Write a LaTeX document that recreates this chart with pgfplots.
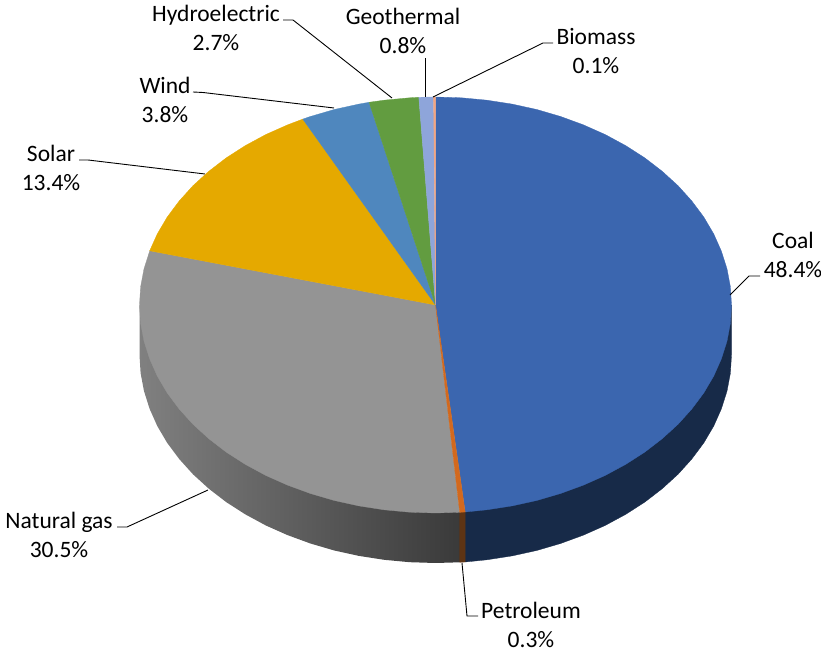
\documentclass[border=0pt]{standalone}
\usepackage{fontspec}
\setmainfont{Carlito}
\usepackage{pgfplots}
\pgfplotsset{compat=1.18}
\definecolor{coal}{HTML}{3B66AF}
\definecolor{coalrim}{HTML}{172A48}
\definecolor{petro}{HTML}{D2691E}
\definecolor{petrorim}{HTML}{5E3414}
\definecolor{gas}{HTML}{949494}
\definecolor{gasL}{HTML}{808080}
\definecolor{gasR}{HTML}{3A3A3A}
\definecolor{solar}{HTML}{E5A900}
\definecolor{wind}{HTML}{4F87BE}
\definecolor{hydro}{HTML}{629C40}
\definecolor{geo}{HTML}{8EA5DA}
\definecolor{biomass}{HTML}{F4A580}
\tikzset{lab/.style={font=\fontsize{23.5}{29}\selectfont, align=center, text=black, inner sep=0pt}}
\begin{document}
\begin{tikzpicture}
\begin{axis}[
  scale only axis, width=821pt, height=650pt,
  xmin=-435.5, xmax=385.5, ymin=-345, ymax=305,
  hide axis, clip=false,
  every axis plot/.append style={line width=0.3pt}
]
\path[use as bounding box] (axis cs:-435.5,-345) rectangle (axis cs:385.5,305);
% --- rim (side wall) ---
\addplot[fill=coalrim, draw=coalrim] coordinates {(296,0)(296,-50)(294.9,-68.1)(291.5,-86.1)(285.9,-103.8)(278.2,-121.1)(268.3,-137.9)(256.3,-154)(242.5,-169.3)(226.7,-183.7)(209.3,-197.1)(190.3,-209.3)(169.8,-220.4)(148,-230.1)(125.1,-238.5)(101.2,-245.5)(76.6,-250.9)(51.4,-254.8)(29.7,-257)(29.7,-207)} -- cycle;
\addplot[left color=gasL, right color=gasR, draw=none] coordinates {(24.2,-207.3)(24.2,-257.3)(0,-258)(-25.8,-257.2)(-51.4,-254.8)(-76.6,-250.9)(-101.2,-245.5)(-125.1,-238.5)(-148,-230.1)(-169.8,-220.4)(-190.3,-209.3)(-209.3,-197.1)(-226.7,-183.7)(-242.5,-169.3)(-256.3,-154)(-268.3,-137.9)(-278.2,-121.1)(-285.9,-103.8)(-291.5,-86.1)(-294.9,-68.1)(-296,-50)(-296,0)} -- cycle;
\addplot[fill=petrorim, draw=petrorim] coordinates {(29.7,-207)(29.7,-257)(24.2,-257.3)(24.2,-207.3)} -- cycle;
% --- top surface ---
\addplot[fill=coal, draw=coal] coordinates {(0,0)(0,208)(25.8,207.2)(51.4,204.8)(76.6,200.9)(101.2,195.5)(125.1,188.5)(148,180.1)(169.8,170.4)(190.3,159.3)(209.3,147.1)(226.7,133.7)(242.5,119.3)(256.3,104)(268.3,87.9)(278.2,71.1)(285.9,53.8)(291.5,36.1)(294.9,18.1)(296,0)(294.9,-18.1)(291.5,-36.1)(285.9,-53.8)(278.2,-71.1)(268.3,-87.9)(256.3,-104)(242.5,-119.3)(226.7,-133.7)(209.3,-147.1)(190.3,-159.3)(169.8,-170.4)(148,-180.1)(125.1,-188.5)(101.2,-195.5)(76.6,-200.9)(51.4,-204.8)(29.7,-207)} -- cycle;
\addplot[fill=gas, draw=gas] coordinates {(0,0)(24.2,-207.3)(0,-208)(-25.8,-207.2)(-51.4,-204.8)(-76.6,-200.9)(-101.2,-195.5)(-125.1,-188.5)(-148,-180.1)(-169.8,-170.4)(-190.3,-159.3)(-209.3,-147.1)(-226.7,-133.7)(-242.5,-119.3)(-256.3,-104)(-268.3,-87.9)(-278.2,-71.1)(-285.9,-53.8)(-291.5,-36.1)(-294.9,-18.1)(-296,0)(-294.9,18.1)(-291.5,36.1)(-285.9,53.8)(-285.8,54.2)} -- cycle;
\addplot[fill=petro, draw=petro] coordinates {(0,0)(29.7,-207)(24.2,-207.3)} -- cycle;
\addplot[fill=solar, draw=solar] coordinates {(0,0)(-285.8,54.2)(-278.2,71.1)(-268.3,87.9)(-256.3,104)(-242.5,119.3)(-226.7,133.7)(-209.3,147.1)(-190.3,159.3)(-169.8,170.4)(-148,180.1)(-132.7,185.9)} -- cycle;
\addplot[fill=wind, draw=wind] coordinates {(0,0)(-132.7,185.9)(-125.1,188.5)(-101.2,195.5)(-76.6,200.9)(-66.4,202.7)} -- cycle;
\addplot[fill=hydro, draw=hydro] coordinates {(0,0)(-66.4,202.7)(-51.4,204.8)(-25.8,207.2)(-16.7,207.7)} -- cycle;
\addplot[fill=geo, draw=geo] coordinates {(0,0)(-16.7,207.7)(-1.9,208)} -- cycle;
\addplot[fill=biomass, draw=biomass] coordinates {(0,0)(-1.9,208)(0,208)} -- cycle;
% --- leader lines ---
\addplot[black, line width=0.9pt] coordinates {(294.5,10)(313.5,29)(324.5,29)};
\addplot[black, line width=0.9pt] coordinates {(26.5,-258)(31.5,-311)(42.5,-311)};
\addplot[black, line width=0.9pt] coordinates {(-227.5,-185)(-308.5,-222)(-318.5,-222)};
\addplot[black, line width=0.9pt] coordinates {(-2.5,208)(107.5,262)(117.5,262)};
\addplot[black, line width=0.9pt] coordinates {(-10.5,208)(-10.5,247)};
\addplot[black, line width=0.9pt] coordinates {(-43.5,207)(-142.5,285)(-152.5,285)};
\addplot[black, line width=0.9pt] coordinates {(-101.5,197)(-232.5,212.5)(-242.5,213)};
\addplot[black, line width=0.9pt] coordinates {(-230.5,131)(-347.5,145)(-356.5,145)};
% --- labels ---
\node[lab] at (axis cs:357.5,50.5) {Coal\\48.4\%};
\node[lab] at (axis cs:160.5,254) {Biomass\\0.1\%};
\node[lab] at (axis cs:-32.5,274.5) {Geothermal\\0.8\%};
\node[lab] at (axis cs:-219.5,277.5) {Hydroelectric\\2.7\%};
\node[lab] at (axis cs:-270.5,205.5) {Wind\\3.8\%};
\node[lab] at (axis cs:-384.5,137.5) {Solar\\13.4\%};
\node[lab] at (axis cs:-376.5,-229.5) {Natural gas\\30.5\%};
\node[lab] at (axis cs:95.5,-319.5) {Petroleum\\0.3\%};
\end{axis}
\end{tikzpicture}
\end{document}
